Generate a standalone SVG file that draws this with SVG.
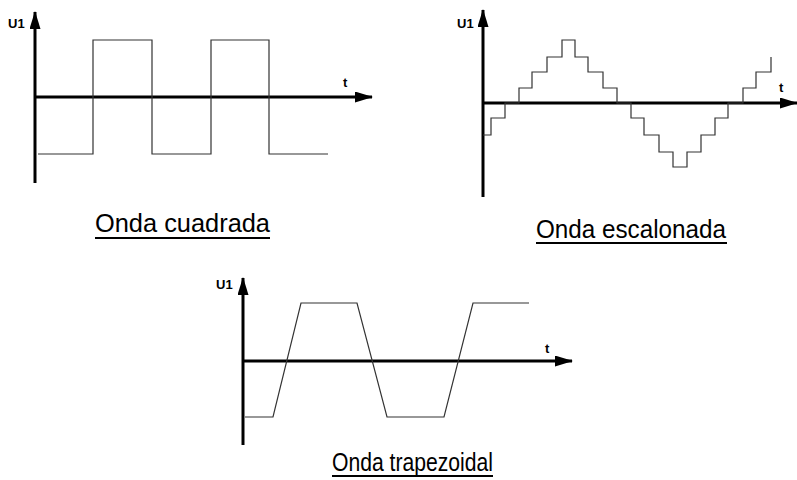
<svg xmlns="http://www.w3.org/2000/svg" width="797" height="480" viewBox="0 0 797 480">
<style>
.axis{stroke:#000;stroke-width:3;fill:none}
.wave{stroke:#333;stroke-width:1.2;fill:none}
.lbl{font-family:"Liberation Sans",Arial,sans-serif;font-weight:bold;font-size:13px;fill:#000}
.cap{font-family:"Liberation Sans",Arial,sans-serif;font-size:25px;fill:#000}
.ul{stroke:#000;stroke-width:1.8}
</style>
<defs>
<marker id="ah" viewBox="0 0 18 11" refX="17" refY="5.5" markerWidth="18" markerHeight="11" markerUnits="userSpaceOnUse" orient="auto">
<path d="M0,0 L18,5.5 L0,11 Z" fill="#000"/>
</marker>
</defs>
<g id="square">
<g id="square-axes">
<line class="axis" x1="35" y1="183" x2="35" y2="12" marker-end="url(#ah)"/>
<line class="axis" x1="35" y1="97" x2="372" y2="97" marker-end="url(#ah)"/>
</g>
<text class="lbl" x="8" y="28">U1</text>
<text class="lbl" x="343" y="87">t</text>
<path class="wave" d="M38,154 H93 V40 H152 V154 H211 V40 H269 V154 H328"/>
<text class="cap" x="95" y="232" textLength="175" lengthAdjust="spacingAndGlyphs">Onda cuadrada</text>
<line class="ul" x1="95" y1="238" x2="270" y2="238"/>
</g>
<g id="stair">
<g id="stair-axes">
<line class="axis" x1="483" y1="197" x2="483" y2="10" marker-end="url(#ah)"/>
<line class="axis" x1="483" y1="103" x2="797" y2="103" marker-end="url(#ah)"/>
</g>
<text class="lbl" x="457" y="28">U1</text>
<text class="lbl" x="779" y="92">t</text>
<path class="wave" d="M483,135 H491 V118 H505 V103 H519 V88 H532 V72 H547 V57 H562 V40 H575 V57 H588 V72 H603 V88 H617 V103 H631 V118 H644 V135 H659 V152 H673 V167 H687 V152 H701 V135 H715 V118 H728 V103 H743 V88 H756 V72 H771 V57"/>
<text class="cap" x="536" y="238" textLength="190" lengthAdjust="spacingAndGlyphs">Onda escalonada</text>
<line class="ul" x1="536" y1="243" x2="727" y2="243"/>
</g>
<g id="trap">
<g id="trap-axes">
<line class="axis" x1="243" y1="445" x2="243" y2="278" marker-end="url(#ah)"/>
<line class="axis" x1="243" y1="361" x2="572" y2="361" marker-end="url(#ah)"/>
</g>
<text class="lbl" x="216" y="289">U1</text>
<text class="lbl" x="545" y="353">t</text>
<path class="wave" d="M245,417 H273 L301,303 H357 L387,417 H444 L473,303 H529"/>
<text class="cap" x="332" y="471" textLength="161" lengthAdjust="spacingAndGlyphs">Onda trapezoidal</text>
<line class="ul" x1="332" y1="476" x2="493" y2="476"/>
</g>
</svg>
